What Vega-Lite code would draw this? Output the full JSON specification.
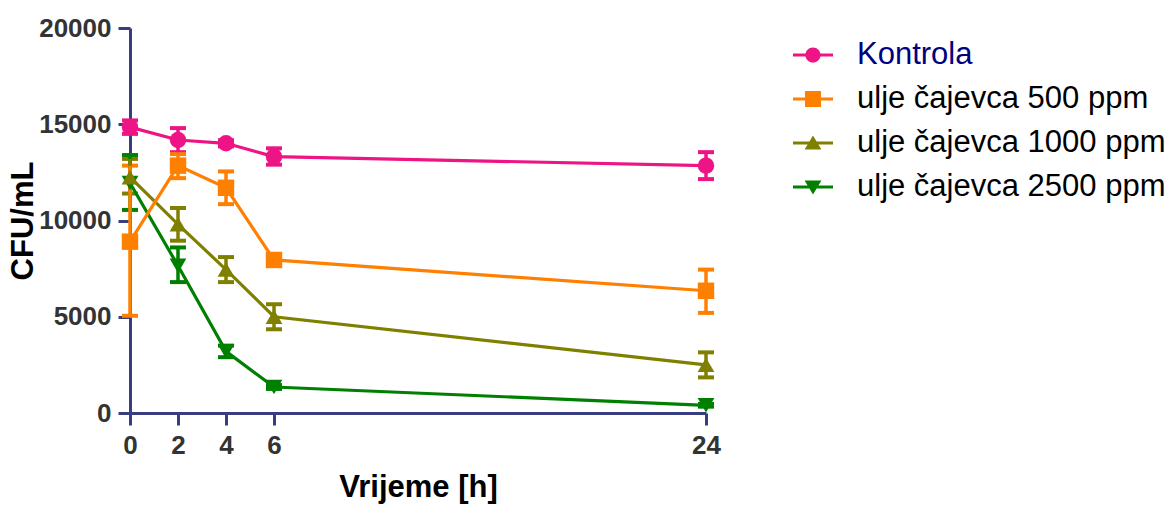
{
  "$schema": "https://vega.github.io/schema/vega-lite/v6.json",
  "width": 576,
  "height": 385,
  "autosize": "none",
  "padding": {"left": 130, "top": 28, "right": 465, "bottom": 92},
  "background": "white",
  "config": {
    "view": {"stroke": null},
    "font": "Liberation Sans",
    "axis": {
      "domainColor": "#383d80",
      "domainWidth": 3,
      "tickColor": "#383d80",
      "tickWidth": 3,
      "tickSize": 12,
      "grid": false,
      "labelFlush": false,
      "labelFont": "Liberation Sans",
      "labelFontWeight": "bold",
      "labelFontSize": 26,
      "labelColor": "#333333",
      "titleFont": "Liberation Sans",
      "titleFontWeight": "bold",
      "titleFontSize": 31,
      "titleColor": "#000000"
    }
  },
  "data": {
    "values": [
      {"series": "ulje čajevca 2500 ppm", "t": 0, "mean": 11950, "lo": 10550, "hi": 13400},
      {"series": "ulje čajevca 2500 ppm", "t": 2, "mean": 7650, "lo": 6800, "hi": 8600},
      {"series": "ulje čajevca 2500 ppm", "t": 4, "mean": 3200, "lo": 2900, "hi": 3500},
      {"series": "ulje čajevca 2500 ppm", "t": 6, "mean": 1350, "lo": 1250, "hi": 1450},
      {"series": "ulje čajevca 2500 ppm", "t": 24, "mean": 400, "lo": 330, "hi": 470},
      {"series": "ulje čajevca 1000 ppm", "t": 0, "mean": 12250, "lo": 11400, "hi": 13200},
      {"series": "ulje čajevca 1000 ppm", "t": 2, "mean": 9800, "lo": 8950, "hi": 10650},
      {"series": "ulje čajevca 1000 ppm", "t": 4, "mean": 7450, "lo": 6800, "hi": 8100},
      {"series": "ulje čajevca 1000 ppm", "t": 6, "mean": 5000, "lo": 4350, "hi": 5650},
      {"series": "ulje čajevca 1000 ppm", "t": 24, "mean": 2500, "lo": 1850, "hi": 3150},
      {"series": "ulje čajevca 500 ppm", "t": 0, "mean": 8900, "lo": 5050, "hi": 12850},
      {"series": "ulje čajevca 500 ppm", "t": 2, "mean": 12850, "lo": 12200, "hi": 13450},
      {"series": "ulje čajevca 500 ppm", "t": 4, "mean": 11700, "lo": 10850, "hi": 12550},
      {"series": "ulje čajevca 500 ppm", "t": 6, "mean": 7950, "lo": 7750, "hi": 8150},
      {"series": "ulje čajevca 500 ppm", "t": 24, "mean": 6350, "lo": 5200, "hi": 7450},
      {"series": "Kontrola", "t": 0, "mean": 14850, "lo": 14500, "hi": 15200},
      {"series": "Kontrola", "t": 2, "mean": 14180, "lo": 13550, "hi": 14800},
      {"series": "Kontrola", "t": 4, "mean": 14010, "lo": 13850, "hi": 14170},
      {"series": "Kontrola", "t": 6, "mean": 13320, "lo": 12900, "hi": 13750},
      {"series": "Kontrola", "t": 24, "mean": 12850, "lo": 12150, "hi": 13550}
    ]
  },
  "encoding": {
    "x": {
      "field": "t",
      "type": "quantitative",
      "scale": {"domain": [0, 24], "nice": false, "zero": false},
      "axis": {"values": [0, 2, 4, 6, 24], "title": "Vrijeme [h]", "titlePadding": 14, "labelPadding": 7}
    },
    "color": {
      "field": "series",
      "type": "nominal",
      "scale": {
        "domain": ["Kontrola", "ulje čajevca 500 ppm", "ulje čajevca 1000 ppm", "ulje čajevca 2500 ppm"],
        "range": ["#ee1485", "#ff8000", "#808000", "#008000"]
      },
      "legend": {
        "title": null,
        "orient": "none",
        "legendX": 663,
        "legendY": 7,
        "padding": 0,
        "symbolSize": 1600,
        "symbolOpacity": 1,
        "symbolStrokeWidth": 0,
        "labelFont": "Liberation Sans",
        "labelFontSize": 31,
        "labelOffset": 24,
        "rowPadding": 9,
        "labelLimit": 400,
        "encode": {
          "labels": {"update": {"fill": [{"test": "datum.label === 'Kontrola'", "value": "#000080"}, {"value": "#000000"}]}}
        }
      }
    }
  },
  "layer": [
    {
      "mark": {"type": "errorbar", "ticks": {"size": 16, "thickness": 4, "opacity": 1}, "rule": {"strokeWidth": 3.5, "opacity": 1}},
      "encoding": {
        "y": {
          "field": "lo",
          "type": "quantitative",
          "scale": {"domain": [0, 20000], "nice": false},
          "axis": {"values": [0, 5000, 10000, 15000, 20000], "format": "d", "title": "CFU/mL", "titlePadding": -1, "labelPadding": 7}
        },
        "y2": {"field": "hi"}
      }
    },
    {
      "mark": {"type": "line", "strokeWidth": 3.2},
      "encoding": {
        "y": {
          "field": "mean",
          "type": "quantitative",
          "scale": {"domain": [0, 20000], "nice": false},
          "axis": {"values": [0, 5000, 10000, 15000, 20000], "format": "d", "title": "CFU/mL", "titlePadding": -1, "labelPadding": 7}
        },
        "order": {"field": "t", "type": "quantitative"}
      }
    },
    {
      "transform": [{"filter": "datum.series === 'ulje čajevca 2500 ppm'"}],
      "mark": {"type": "point", "shape": "triangle-down", "filled": true, "opacity": 1, "size": 280},
      "encoding": {"y": {"field": "mean", "type": "quantitative"}}
    },
    {
      "transform": [{"filter": "datum.series === 'ulje čajevca 1000 ppm'"}],
      "mark": {"type": "point", "shape": "triangle-up", "filled": true, "opacity": 1, "size": 280},
      "encoding": {"y": {"field": "mean", "type": "quantitative"}}
    },
    {
      "transform": [{"filter": "datum.series === 'ulje čajevca 500 ppm'"}],
      "mark": {"type": "point", "shape": "square", "filled": true, "opacity": 1, "size": 270},
      "encoding": {"y": {"field": "mean", "type": "quantitative"}}
    },
    {
      "transform": [{"filter": "datum.series === 'Kontrola'"}],
      "mark": {"type": "point", "shape": "circle", "filled": true, "opacity": 1, "size": 270},
      "encoding": {"y": {"field": "mean", "type": "quantitative"}}
    },
    {
      "mark": {"type": "point", "filled": true, "opacity": 0},
      "encoding": {
        "y": {"field": "mean", "type": "quantitative"},
        "shape": {
          "field": "series",
          "type": "nominal",
          "scale": {
            "domain": ["Kontrola", "ulje čajevca 500 ppm", "ulje čajevca 1000 ppm", "ulje čajevca 2500 ppm"],
            "range": [
              "M-1,-0.075H1V0.075H-1Z M0.38,0A0.38,0.38 0 1 1 -0.38,0A0.38,0.38 0 1 1 0.38,0Z",
              "M-1,-0.075H1V0.075H-1Z M-0.4,-0.4H0.4V0.4H-0.4Z",
              "M-1,-0.075H1V0.075H-1Z M0,-0.38L0.42,0.32L-0.42,0.32Z",
              "M-1,-0.075H1V0.075H-1Z M-0.42,-0.32L0.42,-0.32L0,0.38Z"
            ]
          },
          "legend": {
            "title": null,
            "orient": "none",
            "legendX": 663,
            "legendY": 7,
            "padding": 0,
            "symbolSize": 1600,
            "symbolOpacity": 1,
            "symbolStrokeWidth": 0,
            "labelFont": "Liberation Sans",
            "labelFontSize": 31,
            "labelOffset": 24,
            "rowPadding": 9,
            "labelLimit": 400,
            "encode": {
              "labels": {"update": {"fill": [{"test": "datum.label === 'Kontrola'", "value": "#000080"}, {"value": "#000000"}]}}
            }
          }
        }
      }
    }
  ]
}
